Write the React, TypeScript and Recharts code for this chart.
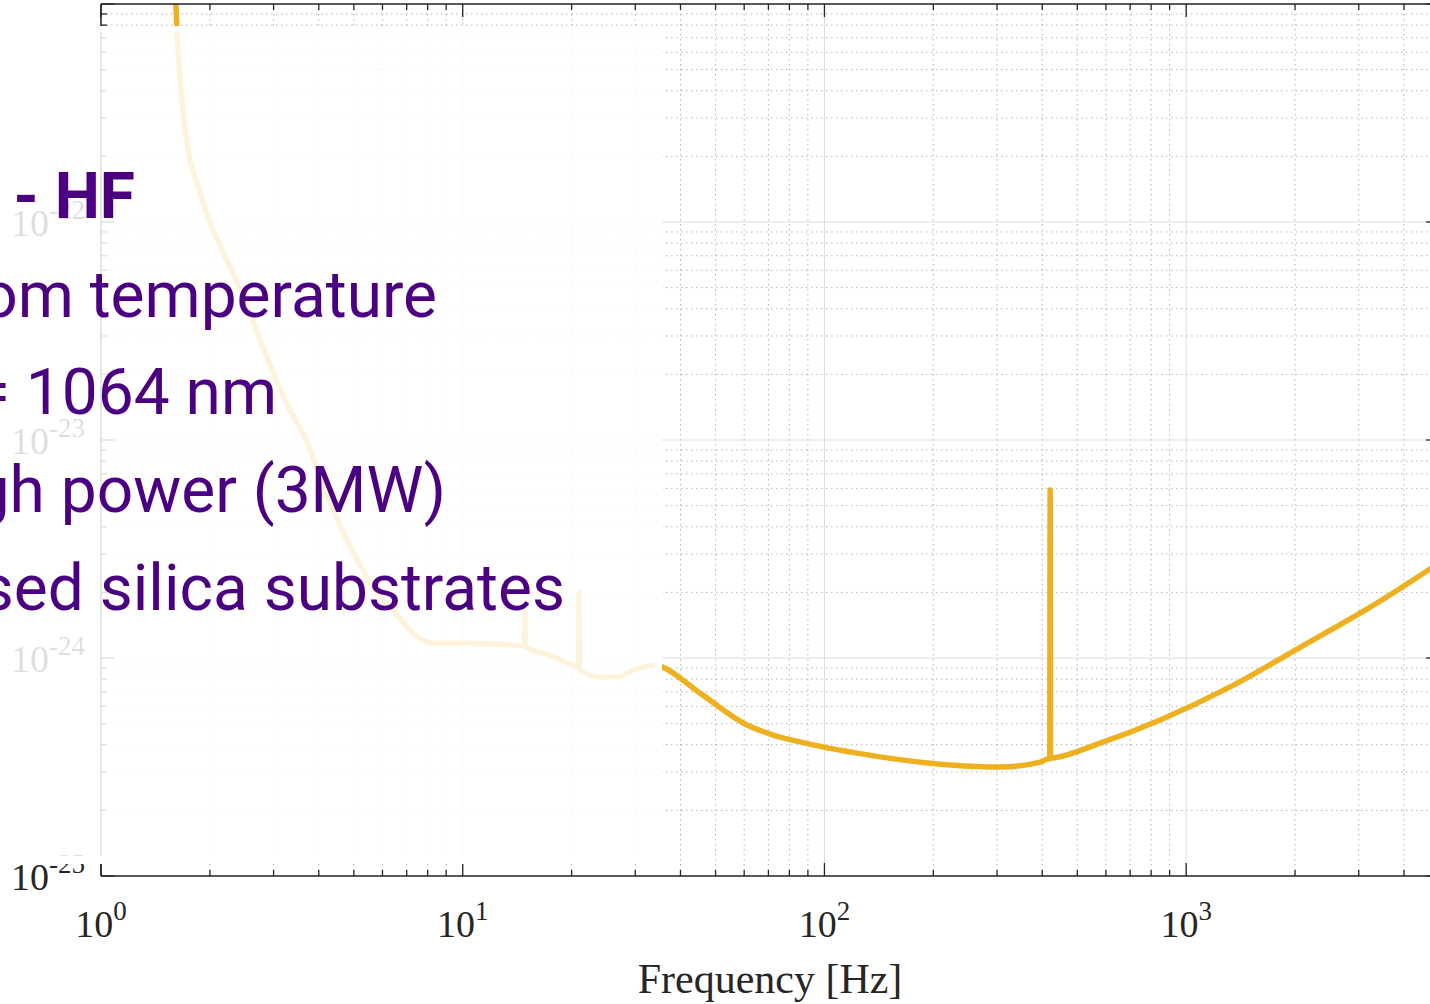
import React from 'react';
import { LineChart, Line, XAxis, YAxis, CartesianGrid } from 'recharts';

// ET-HF strain sensitivity
const freqHz = [
  1.602, 1.623, 1.675, 1.74, 1.843, 1.977, 2.161, 2.502, 2.823, 3.227, 3.688,
  4.27, 4.94, 6.02, 6.71, 7.15, 8.28, 10.28, 13.52, 14.6, 14.8, 14.85, 14.9,
  15.16, 17.44, 20.45, 20.9, 20.97, 21.05, 21.4, 23.97, 26.72, 29.58, 32.96,
  34.2, 35.57, 45.3, 61.1, 70.76, 85.6, 142.6, 222.6, 306, 394.8, 412.8, 419.6,
  420.7, 421.8, 428.7, 578.3, 847.5, 1323, 2067, 3227, 5006,
];
const strain = [
  1.29e-21, 7.36e-22, 3.63e-22, 2.14e-22, 1.51e-22, 1.05e-22, 7.45e-23,
  4.39e-23, 2.59e-23, 1.52e-23, 1.0e-23, 5.31e-24, 3.13e-24, 1.85e-24,
  1.52e-24, 1.34e-24, 1.17e-24, 1.17e-24, 1.15e-24, 1.14e-24, 1.14e-24,
  1.61e-24, 1.13e-24, 1.11e-24, 1.03e-24, 9.2e-25, 9.1e-25, 1.99e-24, 8.9e-25,
  8.63e-25, 8.18e-25, 8.18e-25, 8.81e-25, 9.19e-25, 9.3e-25, 9.1e-25, 6.9e-25,
  4.93e-25, 4.48e-25, 4.12e-25, 3.52e-25, 3.23e-25, 3.16e-25, 3.33e-25,
  3.44e-25, 3.45e-25, 5.9e-24, 3.47e-25, 3.48e-25, 4.07e-25, 5.2e-25,
  7.37e-25, 1.12e-24, 1.71e-24, 2.73e-24,
];

const xMajor = [1, 10, 100, 1000];
const xMinor = [
  2, 3, 4, 5, 6, 7, 8, 9, 20, 30, 40, 50, 60, 70, 80, 90, 200, 300, 400, 500,
  600, 700, 800, 900, 2000, 3000, 4000, 5000,
];
const yMajor = [1e-25, 1e-24, 1e-23, 1e-22, 1e-21];
const yMinor = [
  2e-25, 3e-25, 4e-25, 5e-25, 6e-25, 7e-25, 8e-25, 9e-25,
  2e-24, 3e-24, 4e-24, 5e-24, 6e-24, 7e-24, 8e-24, 9e-24,
  2e-23, 3e-23, 4e-23, 5e-23, 6e-23, 7e-23, 8e-23, 9e-23,
  2e-22, 3e-22, 4e-22, 5e-22, 6e-22, 7e-22, 8e-22, 9e-22,
];
const yLabelled = [1e-25, 1e-24, 1e-23, 1e-22];

const notes = [
  'ET - HF',
  'Room temperature',
  'λ = 1064 nm',
  'High power (3MW)',
  'Fused silica substrates',
];

const data = freqHz.map((f, i) => ({ f, h: strain[i] }));

const AXIS = '#262626';
const SERIF = '"Liberation Serif", "DejaVu Serif", serif';
const LINE = '#EDB120';
const PURPLE = '#4B0082';

const isMajor = (v: number) =>
  Math.abs(Math.log10(v) - Math.round(Math.log10(v))) < 1e-6;
const tickLen = (v: number) => (isMajor(v) ? 13 : 6);
const expOf = (v: number) => String(Math.round(Math.log10(v)));

const Pow = ({ x, y, exp, anchor }: any) => (
  <text x={x} y={y} textAnchor={anchor} fill={AXIS} fontFamily={SERIF} fontSize={38}>
    <tspan>10</tspan>
    <tspan dy={-17} fontSize={27}>{exp}</tspan>
  </text>
);

const BottomTick = ({ x, y, payload }: any) => {
  const v = payload.value;
  return (
    <g>
      <line x1={x} x2={x} y1={y} y2={y - tickLen(v)} stroke={AXIS} strokeWidth={1.3} />
      {isMajor(v) && <Pow x={x} y={y + 61} exp={expOf(v)} anchor="middle" />}
    </g>
  );
};

const TopTick = ({ x, y, payload }: any) => (
  <line x1={x} x2={x} y1={y} y2={y + tickLen(payload.value)} stroke={AXIS} strokeWidth={1.3} />
);

const LeftTick = ({ x, y, payload }: any) => {
  const v = payload.value;
  const labelled = yLabelled.some((l) => Math.abs(Math.log10(l) - Math.log10(v)) < 1e-6);
  return (
    <g>
      <line x1={x} x2={x + tickLen(v)} y1={y} y2={y} stroke={AXIS} strokeWidth={1.3} />
      {labelled && <Pow x={x - 16} y={y + 14} exp={expOf(v)} anchor="end" />}
    </g>
  );
};

const RightTick = ({ x, y, payload }: any) => (
  <line x1={x} x2={x - tickLen(payload.value)} y1={y} y2={y} stroke={AXIS} strokeWidth={1.3} />
);

export default function App() {
  const xTicks = [...xMajor, ...xMinor].sort((a, b) => a - b);
  const yTicks = [...yMajor, ...yMinor].sort((a, b) => a - b);
  const axisLine = { stroke: AXIS, strokeWidth: 1.5 };

  return (
    <div
      style={{
        position: 'absolute',
        left: 0,
        top: 0,
        width: 1430,
        height: 1004,
        overflow: 'hidden',
        background: '#fff',
      }}
    >
      <LineChart
        width={1460}
        height={1004}
        data={data}
        margin={{ top: 3, right: 0, bottom: 0, left: 0 }}
      >
        <CartesianGrid
          xAxisId="x"
          yAxisId="y"
          verticalValues={xMinor}
          horizontalValues={yMinor}
          stroke="#b4b4b4"
          strokeDasharray="1.5 3.5"
        />
        <CartesianGrid
          xAxisId="x"
          yAxisId="y"
          verticalValues={xMajor}
          horizontalValues={yMajor}
          stroke="#dddddd"
        />
        <XAxis
          xAxisId="x"
          dataKey="f"
          type="number"
          scale="log"
          domain={[1, 5000]}
          allowDataOverflow
          ticks={xTicks}
          interval={0}
          tickSize={0}
          tickMargin={0}
          tick={<BottomTick />}
          axisLine={axisLine}
          height={128}
          label={{
            value: 'Frequency [Hz]',
            position: 'insideBottom',
            offset: 11,
            fill: AXIS,
            fontSize: 42,
            fontFamily: SERIF,
          }}
        />
        <XAxis
          xAxisId="xt"
          orientation="top"
          dataKey="f"
          type="number"
          scale="log"
          domain={[1, 5000]}
          allowDataOverflow
          ticks={xTicks}
          interval={0}
          tickSize={0}
          tickMargin={0}
          tick={<TopTick />}
          axisLine={axisLine}
          height={1}
        />
        <YAxis
          yAxisId="y"
          type="number"
          scale="log"
          domain={[1e-25, 1e-21]}
          allowDataOverflow
          ticks={yTicks}
          interval={0}
          tickSize={0}
          tickMargin={0}
          tick={<LeftTick />}
          axisLine={axisLine}
          width={101}
        />
        <YAxis
          yAxisId="yr"
          orientation="right"
          type="number"
          scale="log"
          domain={[1e-25, 1e-21]}
          allowDataOverflow
          ticks={yTicks}
          interval={0}
          tickSize={0}
          tickMargin={0}
          tick={<RightTick />}
          axisLine={axisLine}
          width={21}
        />
        <Line
          xAxisId="x"
          yAxisId="y"
          type="monotoneX"
          dataKey="h"
          stroke={LINE}
          strokeWidth={5.5}
          dot={false}
          isAnimationActive={false}
        />
      </LineChart>

      {/* translucent slide box over the low-frequency part */}
      <div
        style={{
          position: 'absolute',
          left: 0,
          top: 26,
          width: 662,
          height: 838,
          boxSizing: 'border-box',
          background: 'rgba(255,255,255,0.85)',
          borderTop: '6px solid #fff',
          borderRight: '7px solid #fff',
          borderBottom: '8px solid #fff',
        }}
      />

      <svg
        width={1430}
        height={1004}
        style={{ position: 'absolute', left: 0, top: 0, pointerEvents: 'none' }}
      >
        <g fill={PURPLE} fontFamily="Roboto, 'Noto Sans', sans-serif" fontSize={64}>
          <text x={135} y={218} textAnchor="end" fontWeight="bold">{notes[0]}</text>
          <text x={437} y={317} textAnchor="end">{notes[1]}</text>
          <text x={277} y={414} textAnchor="end">{notes[2]}</text>
          <text x={446} y={512} textAnchor="end">{notes[3]}</text>
          <text x={565} y={610} textAnchor="end">{notes[4]}</text>
        </g>
      </svg>
    </div>
  );
}
